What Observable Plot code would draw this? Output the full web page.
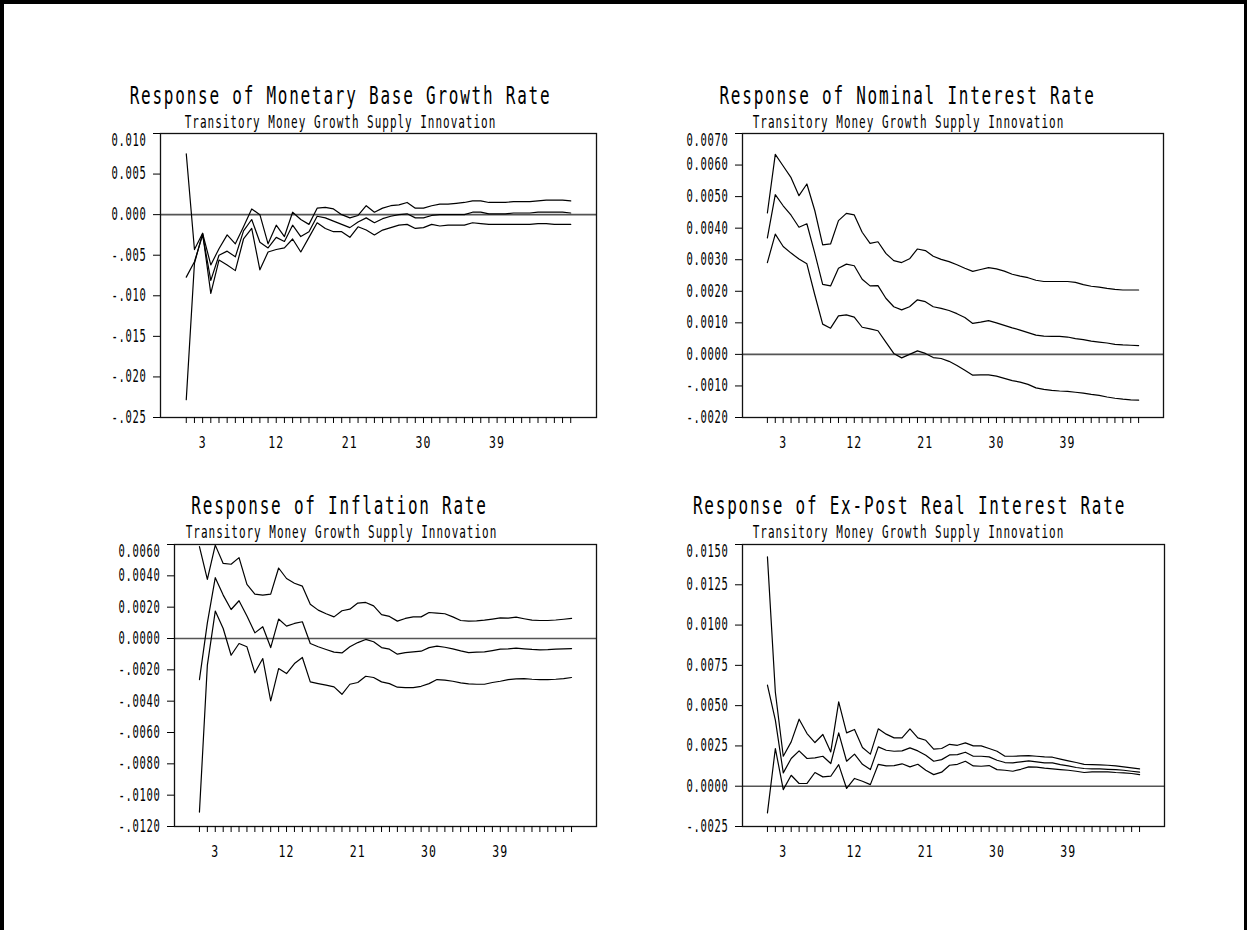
<!DOCTYPE html>
<html><head><meta charset="utf-8">
<script src="https://cdn.jsdelivr.net/npm/d3@7"></script>
<script src="https://cdn.jsdelivr.net/npm/@observablehq/plot@0.6"></script>
<style>
html,body{margin:0;padding:0;background:#fff;}
#page{position:relative;width:1247px;height:930px;background:#fff;overflow:hidden;}
.bar{position:absolute;background:#000;}
.panel{position:absolute;}
.panel svg{overflow:visible;display:block;}
</style></head><body><div id="page">
<div class="bar" style="left:0;top:0;width:1247px;height:4px"></div>
<div class="bar" style="left:0;top:0;width:4px;height:930px"></div>
<div class="bar" style="left:1244px;top:0;width:3px;height:930px"></div>
</div>
<script>
const periods = [1,2,3,4,5,6,7,8,9,10,11,12,13,14,15,16,17,18,19,20,21,22,23,24,25,26,27,28,29,30,31,32,33,34,35,36,37,38,39,40,41,42,43,44,45,46,47,48];
const xLabels = [3,12,21,30,39];
const subtitleText = "Transitory Money Growth Supply Innovation";

// Panel 1: Monetary Base Growth Rate
const mbTicks = [0.010,0.005,0,-0.005,-0.010,-0.015,-0.020,-0.025];
const mbLabels = ["0.010","0.005","0.000","-.005","-.010","-.015","-.020","-.025"];
const mbUpper = [0.0075,-0.0043,-0.0023,-0.0062,-0.0042,-0.0025,-0.0036,-0.0015,0.0007,0.0000,-0.0036,-0.0013,-0.0027,0.0003,-0.0006,-0.0012,0.0008,0.0009,0.0007,0.0000,-0.0004,-0.0001,0.0011,0.0003,0.0008,0.0011,0.0012,0.0015,0.0008,0.0008,0.0011,0.0013,0.0013,0.0014,0.0015,0.0017,0.0017,0.0015,0.0015,0.0015,0.0016,0.0016,0.0016,0.0017,0.0018,0.0018,0.0018,0.0017];
const mbMid = [-0.0077,-0.0058,-0.0025,-0.0081,-0.0050,-0.0045,-0.0052,-0.0020,-0.0006,-0.0034,-0.0041,-0.0028,-0.0033,-0.0013,-0.0027,-0.0021,-0.0002,-0.0004,-0.0008,-0.0012,-0.0016,-0.0009,-0.0004,-0.0010,-0.0005,-0.0002,0.0000,0.0001,-0.0004,-0.0004,-0.0001,0.0000,0.0000,0.0000,0.0000,0.0003,0.0003,0.0001,0.0001,0.0001,0.0002,0.0002,0.0002,0.0003,0.0003,0.0003,0.0003,0.0002];
const mbLower = [-0.0228,-0.0060,-0.0023,-0.0097,-0.0056,-0.0062,-0.0069,-0.0030,-0.0017,-0.0068,-0.0046,-0.0043,-0.0041,-0.0030,-0.0046,-0.0028,-0.0010,-0.0017,-0.0021,-0.0021,-0.0028,-0.0015,-0.0019,-0.0025,-0.0019,-0.0016,-0.0013,-0.0012,-0.0017,-0.0016,-0.0012,-0.0014,-0.0013,-0.0013,-0.0013,-0.0010,-0.0011,-0.0012,-0.0012,-0.0012,-0.0012,-0.0012,-0.0012,-0.0011,-0.0011,-0.0012,-0.0012,-0.0012];

// Panel 2: Nominal Interest Rate
const niTicks = [0.0070,0.0060,0.0050,0.0040,0.0030,0.0020,0.0010,0,-0.0010,-0.0020];
const niLabels = ["0.0070","0.0060","0.0050","0.0040","0.0030","0.0020","0.0010","0.0000","-.0010","-.0020"];
const niUpper = [0.00448,0.00634,0.00597,0.0056,0.00503,0.0054,0.00456,0.00347,0.0035,0.00424,0.00447,0.00442,0.00387,0.00352,0.00357,0.0032,0.00297,0.00291,0.00303,0.00334,0.00329,0.00311,0.00301,0.00294,0.00284,0.00273,0.00263,0.00269,0.00275,0.00271,0.00264,0.00254,0.00248,0.00243,0.00235,0.00231,0.00231,0.00231,0.00231,0.00228,0.00221,0.00216,0.00213,0.00209,0.00206,0.00204,0.00204,0.00204];
const niMid = [0.00369,0.00506,0.00471,0.00441,0.00403,0.00414,0.00321,0.00222,0.00217,0.00273,0.00286,0.00281,0.00238,0.00217,0.00218,0.00178,0.00151,0.00141,0.00151,0.00173,0.00167,0.00151,0.00146,0.00139,0.00129,0.00117,0.00098,0.00102,0.00107,0.00100,0.00092,0.00084,0.00077,0.00069,0.00061,0.00058,0.00057,0.00057,0.00055,0.0005,0.00047,0.00042,0.00039,0.00036,0.00032,0.0003,0.00029,0.00028];
const niLower = [0.00291,0.00381,0.00342,0.00321,0.00302,0.00287,0.00189,0.00096,0.00083,0.00122,0.00125,0.00118,0.00086,0.00081,0.00075,0.00039,0.00003,-0.00011,0.0,0.00011,0.00003,-0.0001,-0.00013,-0.00022,-0.00035,-0.0005,-0.00066,-0.00065,-0.00065,-0.00069,-0.00076,-0.00083,-0.00088,-0.00095,-0.00106,-0.00111,-0.00114,-0.00116,-0.00117,-0.0012,-0.00123,-0.00127,-0.0013,-0.00135,-0.00139,-0.00142,-0.00144,-0.00145];

// Panel 3: Inflation Rate
const inTicks = [0.0060,0.0040,0.0020,0,-0.0020,-0.0040,-0.0060,-0.0080,-0.0100,-0.0120];
const inLabels = ["0.0060","0.0040","0.0020","0.0000","-.0020","-.0040","-.0060","-.0080","-.0100","-.0120"];
const inUpper = [0.00586,0.00377,0.00596,0.00479,0.00474,0.00516,0.00345,0.00283,0.00277,0.00283,0.0045,0.00383,0.00353,0.00334,0.00219,0.00181,0.00158,0.00138,0.00177,0.00187,0.00226,0.0023,0.00208,0.00152,0.00141,0.00111,0.00128,0.00138,0.00138,0.00166,0.00162,0.00158,0.00138,0.00115,0.00111,0.00113,0.00117,0.00124,0.00132,0.0013,0.00136,0.00126,0.00117,0.00115,0.00115,0.00118,0.00123,0.00128];
const inMid = [-0.00262,0.0010,0.00388,0.00277,0.00185,0.00241,0.00143,0.00036,0.00075,-0.00058,0.00124,0.00079,0.00096,0.00107,-0.00032,-0.00053,-0.0007,-0.00087,-0.00092,-0.00053,-0.00026,-0.00006,-0.00021,-0.00058,-0.00068,-0.001,-0.0009,-0.00085,-0.00081,-0.00058,-0.00049,-0.00056,-0.00066,-0.00079,-0.0009,-0.00087,-0.00085,-0.00077,-0.00068,-0.00066,-0.00062,-0.00066,-0.0007,-0.00072,-0.00071,-0.00068,-0.00066,-0.00064];
const inLower = [-0.01108,-0.0017,0.00175,0.00064,-0.00107,-0.00032,-0.00053,-0.00219,-0.00128,-0.00398,-0.00192,-0.00224,-0.0016,-0.00121,-0.00277,-0.00288,-0.00298,-0.00309,-0.00356,-0.00292,-0.00281,-0.00241,-0.00249,-0.00277,-0.00288,-0.00311,-0.00313,-0.00313,-0.00305,-0.00288,-0.00262,-0.00266,-0.00273,-0.00283,-0.0029,-0.00292,-0.00292,-0.00281,-0.00273,-0.00262,-0.00258,-0.00256,-0.0026,-0.00262,-0.00262,-0.0026,-0.00256,-0.00249];

// Panel 4: Ex-Post Real Interest Rate
const rrTicks = [0.0150,0.0125,0.0100,0.0075,0.0050,0.0025,0,-0.0025];
const rrLabels = ["0.0150","0.0125","0.0100","0.0075","0.0050","0.0025","0.0000","-.0025"];
const rrUpper = [0.01423,0.00583,0.00186,0.00275,0.00416,0.00327,0.00271,0.00321,0.00213,0.00523,0.00331,0.00352,0.0024,0.00199,0.00356,0.00323,0.003,0.003,0.00356,0.003,0.00285,0.0023,0.00234,0.0026,0.00254,0.00269,0.0025,0.0025,0.00234,0.00217,0.00186,0.00186,0.00188,0.0019,0.00186,0.00182,0.0018,0.00168,0.00157,0.00147,0.00136,0.00134,0.00132,0.0013,0.00126,0.0012,0.00114,0.00108];
const rrMid = [0.00627,0.0041,0.00083,0.00172,0.00219,0.00172,0.00176,0.00186,0.00141,0.00331,0.00155,0.00199,0.00136,0.00103,0.00244,0.00223,0.00217,0.00219,0.00238,0.00219,0.00192,0.00155,0.00165,0.00194,0.00196,0.00211,0.00186,0.00186,0.00182,0.00161,0.00147,0.00145,0.00151,0.00157,0.00151,0.00145,0.00145,0.00134,0.00126,0.00116,0.0011,0.00108,0.00108,0.00105,0.00103,0.00099,0.00093,0.00087];
const rrLower = [-0.00165,0.00234,-0.00021,0.00068,0.00017,0.00017,0.00085,0.00058,0.00062,0.00134,-0.00014,0.00048,0.00031,0.0001,0.00136,0.00126,0.00128,0.00139,0.0012,0.00136,0.00099,0.00072,0.00087,0.0013,0.00136,0.00155,0.00126,0.00124,0.00128,0.00103,0.00099,0.00093,0.00105,0.0012,0.00118,0.00112,0.00108,0.00103,0.00099,0.00093,0.00085,0.00089,0.00089,0.00089,0.00085,0.00083,0.00079,0.00072];

const FONT = "'DejaVu Sans Mono', 'Liberation Mono', monospace";
const xDomain = [-2.15, 51.15];
// monospace sizes + letter spacing reproduce the original cell width;
// glyphs are then stretched vertically to the original's tall, narrow look
const FS = {title: 16, sub: 11, ylab: 10.5, xlab: 11.5};
const textStyle = {
  "16.0": {k: 1.57, ls: 1.77},
  "11.0": {k: 1.66, ls: 0.98},
  "10.5": {k: 1.61, ls: 0.68},
  "11.5": {k: 1.40, ls: 1.08}
};

function tallText(svg) {
  svg.querySelectorAll("text").forEach(t => {
    if (!t.textContent) return;
    const fs = parseFloat(getComputedStyle(t).fontSize).toFixed(1);
    const st = textStyle[fs];
    if (!st) return;
    t.style.letterSpacing = st.ls + "px";
    const k = st.k;
    const tr = t.getAttribute("transform");
    if (tr) {
      t.setAttribute("transform", tr + ` scale(1,${k})`);
    } else {
      const x = parseFloat(t.getAttribute("x")) || 0;
      const yAttr = t.getAttribute("y") || "0";
      if (/em$/.test(yAttr)) {
        t.setAttribute("transform", `translate(${x},0) scale(1,${k})`);
        t.setAttribute("x", 0);
      } else {
        const y = parseFloat(yAttr) || 0;
        t.setAttribute("transform", `translate(${x},${y}) scale(1,${k})`);
        t.setAttribute("x", 0); t.setAttribute("y", 0);
      }
    }
  });
}

function panel(cfg) {
  const rows = [];
  cfg.series.forEach(([band, vals]) => vals.forEach((v, i) => rows.push({period: periods[i], value: v, band})));
  const labelOf = new Map(cfg.yTicks.map((t, i) => [t, cfg.yLabels[i]]));
  const topTick = cfg.yTicks[0];
  const chart = Plot.plot({
    width: cfg.width, height: cfg.height,
    marginLeft: cfg.ml, marginTop: cfg.mt, marginRight: cfg.mr, marginBottom: cfg.mb,
    x: {domain: xDomain},
    y: {domain: cfg.yDomain},
    style: {fontFamily: FONT, background: "transparent", overflow: "visible", color: "#000"},
    marks: [
      Plot.ruleY([0], {stroke: "#555", strokeWidth: 1.6}),
      Plot.lineY(rows, {x: "period", y: "value", z: "band", stroke: "#000", strokeWidth: 1.2}),
      Plot.frame({stroke: "#111", strokeWidth: 1.3}),
      Plot.axisX({ticks: periods, tickSize: 6, tickPadding: 13, fontSize: FS.xlab,
        tickFormat: d => xLabels.includes(d) ? String(d) : "", label: null}),
      Plot.axisY({ticks: cfg.yTicks, tickSize: 7, tickPadding: 7, fontSize: FS.ylab,
        tickFormat: d => d === topTick ? "" : labelOf.get(d), label: null}),
      Plot.text([cfg.yLabels[0]], {frameAnchor: "top-left", dx: -14, textAnchor: "end", lineAnchor: "top", fontSize: FS.ylab, text: d => d}),
      Plot.text([cfg.title], {frameAnchor: "top-left", dx: cfg.tdx, dy: cfg.tdy, textAnchor: "middle", lineAnchor: "bottom", fontSize: FS.title, text: d => d}),
      Plot.text([subtitleText], {frameAnchor: "top-left", dx: cfg.sdx, dy: cfg.sdy, textAnchor: "middle", lineAnchor: "bottom", fontSize: FS.sub, text: d => d})
    ]
  });
  const div = document.createElement("div");
  div.className = "panel";
  div.style.left = cfg.left + "px";
  div.style.top = cfg.top + "px";
  div.appendChild(chart);
  document.getElementById("page").appendChild(div);
  tallText(chart);
}

panel({left: 20, top: 50, width: 600, height: 430, ml: 140, mt: 83, mr: 24, mb: 63,
  yDomain: [-0.025, 0.010], yTicks: mbTicks, yLabels: mbLabels,
  series: [["upper", mbUpper], ["mid", mbMid], ["lower", mbLower]],
  title: "Response of Monetary Base Growth Rate", tdx: 180, tdy: -30, sdx: 180, sdy: -6});

panel({left: 620, top: 50, width: 600, height: 430, ml: 122, mt: 83, mr: 57, mb: 63,
  yDomain: [-0.0020, 0.0070], yTicks: niTicks, yLabels: niLabels,
  series: [["upper", niUpper], ["mid", niMid], ["lower", niLower]],
  title: "Response of Nominal Interest Rate", tdx: 165, tdy: -30, sdx: 166, sdy: -6});

panel({left: 20, top: 460, width: 600, height: 430, ml: 154, mt: 84, mr: 24, mb: 64,
  yDomain: [-0.0120, 0.0060], yTicks: inTicks, yLabels: inLabels,
  series: [["upper", inUpper], ["mid", inMid], ["lower", inLower]],
  title: "Response of Inflation Rate", tdx: 165, tdy: -31, sdx: 167, sdy: -7});

panel({left: 620, top: 460, width: 600, height: 430, ml: 122, mt: 84, mr: 56, mb: 64,
  yDomain: [-0.0025, 0.0150], yTicks: rrTicks, yLabels: rrLabels,
  series: [["upper", rrUpper], ["mid", rrMid], ["lower", rrLower]],
  title: "Response of Ex-Post Real Interest Rate", tdx: 167, tdy: -31, sdx: 166, sdy: -7});
</script></body></html>
